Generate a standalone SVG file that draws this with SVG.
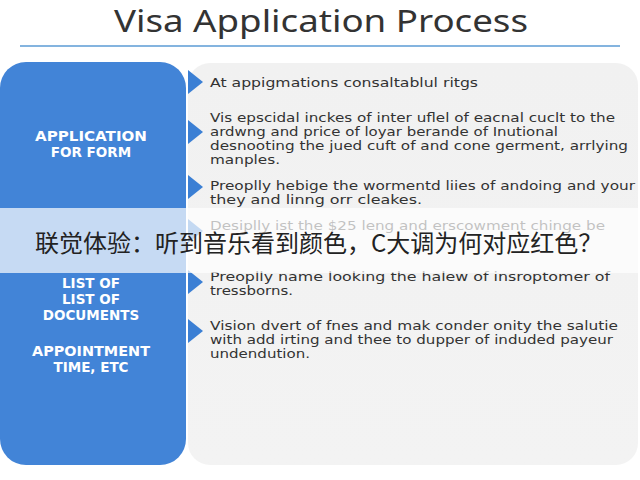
<svg xmlns="http://www.w3.org/2000/svg" width="640" height="480" viewBox="0 0 640 480">
<defs>
<linearGradient id="grayFill" x1="0" y1="0" x2="0" y2="1">
<stop offset="0" stop-color="#f1f1f1"/>
<stop offset="1" stop-color="#f3f3f3"/>
</linearGradient>
<polygon id="bullet" points="0,0 15,12 0,24"/>
</defs>
<style>
.title{font-family:"Noto Sans","Open Sans",sans-serif;font-size:30px;fill:#333333;}
.side{font-family:"DejaVu Sans",sans-serif;font-size:13.5px;font-weight:700;fill:#ffffff;text-anchor:middle;}
.body{font-family:"DejaVu Sans",sans-serif;font-size:12.5px;fill:#333333;}
.bul{fill:#3b7fd4;}
.cjk{font-family:"Noto Sans CJK SC","Noto Sans CJK JP",sans-serif;font-size:24px;fill:#222222;}
</style>
<rect width="640" height="480" fill="#ffffff"/>
<g id="title">
<text class="title" x="321" y="32" text-anchor="middle" textLength="414" lengthAdjust="spacingAndGlyphs">Visa Application Process</text>
<line x1="20" y1="46" x2="620" y2="46" stroke="#5b9bd5" stroke-width="1.5"/>
</g>
<g id="node-left">
<rect x="0" y="62" width="186" height="403" rx="26" ry="26" fill="#4284d7"/>
<text class="side" x="91" y="141" textLength="112" lengthAdjust="spacingAndGlyphs">APPLICATION</text>
<text class="side" x="91" y="157">FOR FORM</text>
<text class="side" x="91" y="288">LIST OF</text>
<text class="side" x="91" y="304">LIST OF</text>
<text class="side" x="91" y="320">DOCUMENTS</text>
<text class="side" x="91" y="356" textLength="118" lengthAdjust="spacingAndGlyphs">APPOINTMENT</text>
<text class="side" x="91" y="372">TIME, ETC</text>
</g>
<g id="node-right">
<rect x="188" y="63" width="450" height="402" rx="22" ry="22" fill="url(#grayFill)"/>
<g id="item1">
<use href="#bullet" class="bul" x="188" y="70"/>
<text class="body" x="210" y="87" textLength="268" lengthAdjust="spacingAndGlyphs">At appigmations consaltablul ritgs</text>
</g>
<g id="item2">
<use href="#bullet" class="bul" x="188" y="120"/>
<text class="body" x="210" y="122" textLength="405" lengthAdjust="spacingAndGlyphs">Vis epscidal inckes of inter uflel of eacnal cuclt to the</text>
<text class="body" x="210" y="136" textLength="348" lengthAdjust="spacingAndGlyphs">ardwng and price of loyar berande of Inutional</text>
<text class="body" x="210" y="150" textLength="418" lengthAdjust="spacingAndGlyphs">desnooting the jued cuft of and cone germent, arrlying</text>
<text class="body" x="210" y="164" textLength="70" lengthAdjust="spacingAndGlyphs">manples.</text>
</g>
<g id="item3">
<use href="#bullet" class="bul" x="188" y="175"/>
<text class="body" x="210" y="190" textLength="425" lengthAdjust="spacingAndGlyphs">Preoplly hebige the wormentd liies of andoing and your</text>
<text class="body" x="210" y="204" textLength="212" lengthAdjust="spacingAndGlyphs">they and linng orr cleakes.</text>
</g>
<g id="item4">
<use href="#bullet" class="bul" x="188" y="219"/>
<text class="body" x="210" y="230" textLength="395" lengthAdjust="spacingAndGlyphs">Desiplly ist the $25 leng and erscowment chinge be</text>
</g>
<g id="item5">
<use href="#bullet" class="bul" x="188" y="270"/>
<text class="body" x="210" y="281" textLength="400" lengthAdjust="spacingAndGlyphs">Preoplly name looking the halew of insroptomer of</text>
<text class="body" x="210" y="295" textLength="83" lengthAdjust="spacingAndGlyphs">tressborns.</text>
</g>
<g id="item6">
<use href="#bullet" class="bul" x="188" y="319"/>
<text class="body" x="210" y="330" textLength="408" lengthAdjust="spacingAndGlyphs">Vision dvert of fnes and mak conder onity the salutie</text>
<text class="body" x="210" y="344" textLength="403" lengthAdjust="spacingAndGlyphs">with add irting and thee to dupper of induded payeur</text>
<text class="body" x="210" y="358" textLength="100" lengthAdjust="spacingAndGlyphs">undendution.</text>
</g>
</g>
<g id="connectors"></g>
<g id="caption-band">
<rect x="0" y="208" width="640" height="65" fill="#ffffff" fill-opacity="0.7"/>
<text class="cjk" x="35" y="252">联觉体验：听到音乐看到颜色，C大调为何对应红色？</text>
</g>
</svg>
